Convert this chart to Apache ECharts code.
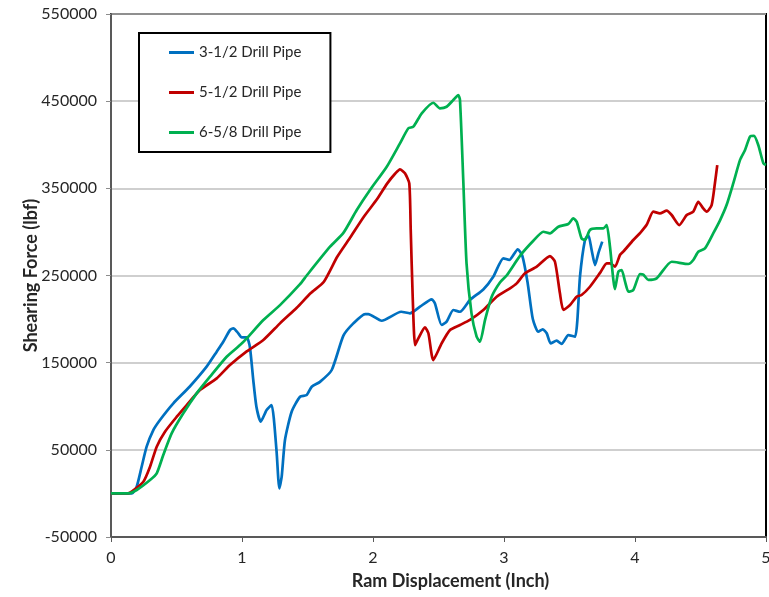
<!DOCTYPE html>
<html>
<head>
<meta charset="utf-8">
<title>Shearing Force vs Ram Displacement</title>
<script src="https://cdn.jsdelivr.net/npm/echarts@6/dist/echarts.min.js"></script>
<style>
  html, body { margin: 0; padding: 0; background: #fff; }
  #chart { width: 769px; height: 597px; }
</style>
</head>
<body>
<div id="chart"></div>
<script>
// y tick labels (Excel axis starts at -50000, step 100000)
const yTicks = [-50000, 50000, 150000, 250000, 350000, 450000, 550000]
const xTicks = [0, 1, 2, 3, 4, 5]

const seriesNames = ['3-1/2 Drill Pipe', '5-1/2 Drill Pipe', '6-5/8 Drill Pipe']

// [ram displacement (inch), shearing force (lbf)]
const pipe312 = [
  [0, 0], [0.16, 0], [0.196, 7700], [0.234, 30600], [0.272, 53600], [0.323, 72700],
  [0.374, 84300], [0.476, 103400], [0.6, 122400], [0.73, 145400], [0.807, 162600],
  [0.857, 174000], [0.908, 187400], [0.934, 189400], [0.972, 183700], [0.997, 179000],
  [1.036, 179000], [1.06, 168300], [1.086, 130100], [1.11, 99500], [1.143, 82300],
  [1.188, 95700], [1.226, 101400], [1.244, 84200], [1.265, 46000], [1.285, 5800],
  [1.303, 19200], [1.328, 61300], [1.379, 93700], [1.443, 110900], [1.494, 112900],
  [1.532, 122400], [1.595, 128000], [1.685, 141600], [1.774, 181000], [1.85, 195100],
  [1.94, 205800], [1.964, 205800], [2.066, 198100], [2.215, 208400], [2.282, 206600],
  [2.359, 214200], [2.448, 222600], [2.473, 218000], [2.524, 193200], [2.562, 197000],
  [2.613, 210400], [2.664, 208400], [2.74, 222000], [2.842, 234000], [2.918, 248600],
  [2.995, 269700], [3.04, 267800], [3.105, 280000], [3.14, 272500], [3.18, 242000],
  [3.22, 200000], [3.262, 185500], [3.295, 188300], [3.326, 183700], [3.356, 172200],
  [3.402, 175200], [3.44, 171400], [3.491, 181700], [3.542, 179800], [3.56, 198900],
  [3.58, 248600], [3.618, 290700], [3.644, 296400], [3.669, 279200], [3.695, 262000],
  [3.72, 275400], [3.75, 288800]
]

const pipe512 = [
  [0, 0], [0.13, 0], [0.158, 2000], [0.247, 13400], [0.298, 30600], [0.349, 53600],
  [0.412, 70800], [0.502, 88000], [0.578, 101400], [0.679, 118600], [0.807, 132000],
  [0.908, 147300], [1.036, 163000], [1.163, 176000], [1.29, 195100], [1.418, 213000],
  [1.523, 229600], [1.625, 242900], [1.727, 271500], [1.83, 294500], [1.93, 317400],
  [2.033, 338000], [2.109, 355700], [2.17, 367000], [2.206, 371800], [2.244, 367200],
  [2.277, 355700], [2.288, 302200], [2.303, 225700], [2.321, 170200], [2.346, 177900],
  [2.397, 190500], [2.423, 183700], [2.46, 153000], [2.524, 172200], [2.588, 187500],
  [2.664, 193200], [2.74, 199000], [2.842, 210400], [2.944, 225700], [3.046, 235300],
  [3.097, 241000], [3.16, 252500], [3.25, 260100], [3.351, 272300], [3.389, 265800],
  [3.427, 229600], [3.453, 210400], [3.504, 216100], [3.555, 225700], [3.592, 227600],
  [3.656, 237100], [3.733, 253000], [3.784, 264000], [3.81, 264000], [3.847, 260100],
  [3.885, 273500], [3.91, 277300], [3.987, 290700], [4.04, 299000], [4.089, 308200],
  [4.14, 323200], [4.19, 321300], [4.242, 324400], [4.28, 319400], [4.338, 307900],
  [4.395, 319400], [4.445, 323200], [4.483, 334600], [4.521, 327000], [4.547, 323200],
  [4.585, 330800], [4.61, 355700], [4.628, 376700]
]

const pipe658 = [
  [0, 0], [0.13, 0], [0.196, 3900], [0.298, 15300], [0.349, 23000], [0.399, 44000],
  [0.463, 68900], [0.552, 91900], [0.654, 114800], [0.756, 133900], [0.883, 156800],
  [0.985, 170200], [1.036, 177900], [1.163, 198900], [1.29, 216000], [1.443, 240000],
  [1.494, 250000], [1.672, 283000], [1.774, 298900], [1.876, 325100], [1.977, 348100],
  [2.105, 374800], [2.206, 401600], [2.27, 418900], [2.308, 420700], [2.372, 436000],
  [2.46, 448200], [2.511, 441800], [2.562, 443600], [2.613, 451300], [2.651, 457000],
  [2.664, 451300], [2.689, 359600], [2.714, 263900], [2.752, 206600], [2.791, 179800],
  [2.817, 174000], [2.855, 198900], [2.906, 225700], [2.969, 242000], [3.02, 250000],
  [3.122, 272500], [3.224, 289800], [3.3, 300200], [3.351, 298300], [3.415, 306000],
  [3.491, 309100], [3.529, 315600], [3.555, 311700], [3.592, 292600], [3.618, 290700],
  [3.656, 302200], [3.707, 304000], [3.758, 304000], [3.784, 307900], [3.809, 283000],
  [3.847, 234300], [3.873, 254400], [3.898, 256300], [3.924, 243000], [3.95, 231400],
  [3.987, 233300], [4.038, 251500], [4.063, 251000], [4.102, 245000], [4.165, 246700],
  [4.28, 265800], [4.407, 263200], [4.445, 267800], [4.483, 277300], [4.534, 281100],
  [4.597, 298300], [4.649, 313300], [4.699, 330800], [4.75, 355700], [4.802, 382600],
  [4.84, 394000], [4.878, 409300], [4.908, 410100], [4.941, 399700], [4.98, 378700],
  [5.0, 376800]
]

const colors = ['#0070C0', '#C00000', '#00B050']
const fontFamily = 'Lato, "Open Sans", sans-serif'
const textColor = '#262626'

const chart = echarts.init(document.getElementById('chart'), null, { renderer: 'canvas' })

const lineSeries = (name, data, i) => ({
  name: name,
  type: 'line',
  data: data,
  showSymbol: false,
  symbol: 'none',
  smooth: 0.2,
  lineStyle: { color: colors[i], width: 2.7 },
  itemStyle: { color: colors[i] },
  animation: false
})

const option = {
  backgroundColor: '#fff',
  grid: {
    left: 111,
    top: 14,
    width: 655,
    height: 523,
    outerBoundsMode: 'none',
    show: true,
    borderColor: '#000',
    borderWidth: 2,
    backgroundColor: 'transparent'
  },
  legend: {
    orient: 'vertical',
    left: 139,
    top: 33,
    data: seriesNames,
    icon: 'rect',
    itemWidth: 25,
    itemHeight: 3,
    itemGap: 25,
    padding: [12, 29, 12, 30],
    borderColor: '#000',
    borderWidth: 2,
    backgroundColor: '#fff',
    textStyle: { fontFamily: fontFamily, fontSize: 15, color: textColor }
  },
  xAxis: {
    type: 'value',
    min: 0,
    max: 5,
    interval: 1,
    name: 'Ram Displacement (Inch)',
    nameLocation: 'middle',
    nameGap: 35,
    nameMoveOverlap: false,
    nameTextStyle: {
      fontFamily: fontFamily, fontSize: 18, fontWeight: 'bold', color: textColor,
      padding: [0, 0, 0, 24]
    },
    axisLine: { show: true, onZero: false, lineStyle: { color: '#595959', width: 2 } },
    axisTick: { show: true, length: 5, lineStyle: { color: '#595959' } },
    axisLabel: {
      margin: 13,
      fontFamily: fontFamily,
      fontSize: 16,
      color: textColor,
      customValues: xTicks
    },
    splitLine: { show: false }
  },
  yAxis: {
    type: 'value',
    min: -50000,
    max: 550000,
    name: 'Shearing Force (lbf)',
    nameLocation: 'middle',
    nameGap: 71,
    nameMoveOverlap: false,
    nameTextStyle: {
      fontFamily: fontFamily, fontSize: 18, fontWeight: 'bold', color: textColor,
      padding: [0, 0, 0, 0]
    },
    axisLine: { show: true, onZero: false, lineStyle: { color: '#595959', width: 2 } },
    axisTick: { show: true, length: 5, customValues: yTicks, lineStyle: { color: '#8c8c8c' } },
    axisLabel: {
      margin: 14,
      fontFamily: fontFamily,
      fontSize: 16,
      color: textColor,
      customValues: yTicks,
      formatter: v => String(v)
    },
    splitLine: { show: true, lineStyle: { color: '#bfbfbf', width: 1.5 } }
  },
  series: [
    lineSeries(seriesNames[0], pipe312, 0),
    lineSeries(seriesNames[1], pipe512, 1),
    lineSeries(seriesNames[2], pipe658, 2)
  ]
}

chart.setOption(option)
</script>
</body>
</html>
